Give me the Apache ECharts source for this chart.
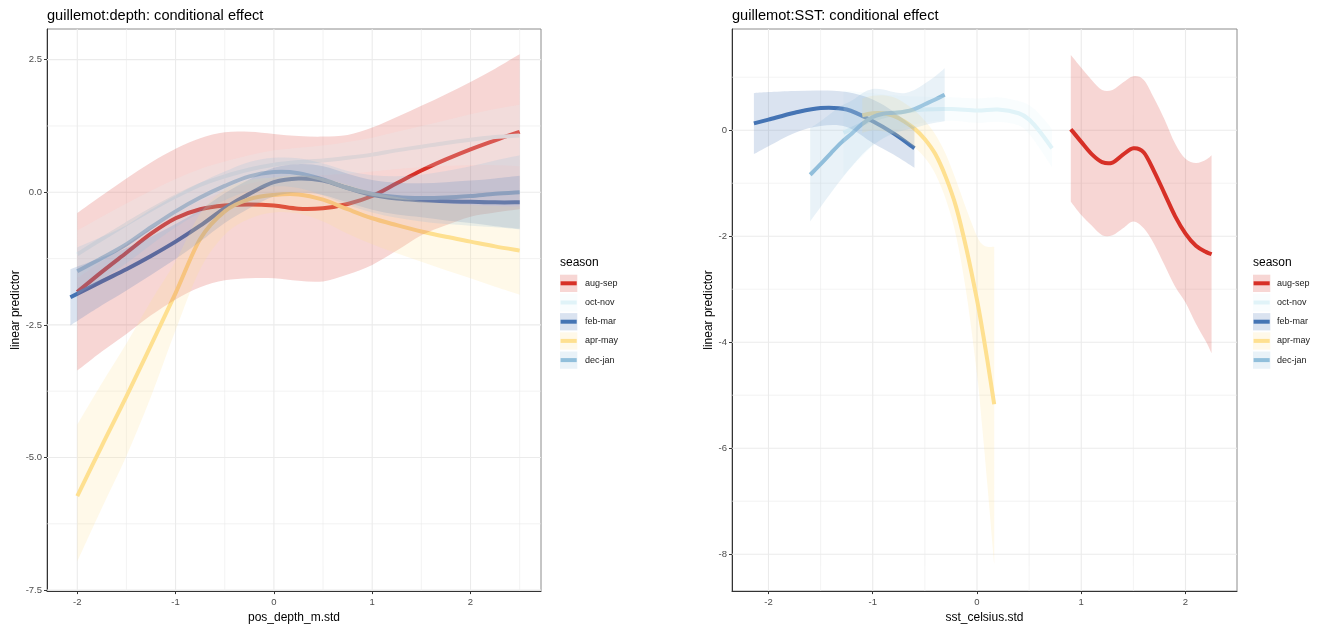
<!DOCTYPE html>
<html><head><meta charset="utf-8">
<script src="https://cdn.jsdelivr.net/npm/echarts@6/dist/echarts.min.js"></script>
<style>html,body{margin:0;padding:0;background:#fff}#c{width:1327px;height:629px}</style>
</head><body><div id="c"></div>
<script>
// ---------- legend / seasons ----------
const seasons = ['aug-sep', 'oct-nov', 'feb-mar', 'apr-may', 'dec-jan'];
const seasonColors = ['#d73027', '#e0f3f8', '#4575b4', '#fee090', '#91bfdb'];

// ---------- left panel: pos_depth_m.std ----------
const depthX = [-2, -1.75, -1.5, -1.25, -1, -0.75, -0.5, -0.25, 0, 0.25, 0.5, 0.75, 1, 1.25, 1.5, 1.75, 2, 2.25, 2.5];
const depthXFebMar = [-2.07, -1.75, -1.5, -1.25, -1, -0.75, -0.5, -0.25, 0, 0.25, 0.5, 0.75, 1, 1.25, 1.5, 1.75, 2, 2.25, 2.5];

const depthAugSepMean = [-1.88, -1.5, -1.14, -0.78, -0.49, -0.32, -0.25, -0.23, -0.25, -0.31, -0.30, -0.22, -0.07, 0.17, 0.41, 0.62, 0.81, 0.98, 1.14];
const depthAugSepHi   = [-0.39, -0.06, 0.26, 0.56, 0.82, 1.02, 1.13, 1.14, 1.10, 1.06, 1.05, 1.08, 1.22, 1.42, 1.63, 1.85, 2.08, 2.33, 2.6];
const depthAugSepLo   = [-3.36, -3.0, -2.67, -2.32, -2.02, -1.79, -1.66, -1.62, -1.62, -1.67, -1.68, -1.55, -1.37, -1.1, -0.81, -0.62, -0.46, -0.38, -0.32];

const depthOctNovMean = [-1.17, -0.88, -0.6, -0.33, -0.08, 0.14, 0.3, 0.43, 0.52, 0.57, 0.6, 0.65, 0.71, 0.79, 0.86, 0.93, 0.99, 1.04, 1.07];
const depthOctNovHi   = [-0.72, -0.46, -0.21, 0.03, 0.25, 0.44, 0.58, 0.70, 0.79, 0.84, 0.88, 0.95, 1.03, 1.14, 1.25, 1.36, 1.47, 1.57, 1.65];
const depthOctNovLo   = [-1.62, -1.30, -0.99, -0.69, -0.41, -0.16, 0.02, 0.16, 0.25, 0.30, 0.32, 0.35, 0.39, 0.44, 0.47, 0.50, 0.51, 0.51, 0.49];

const depthFebMarMean = [-1.98, -1.68, -1.45, -1.2, -0.93, -0.63, -0.3, -0.03, 0.19, 0.26, 0.22, 0.08, -0.05, -0.12, -0.15, -0.17, -0.18, -0.19, -0.19];
const depthFebMarHi   = [-1.45, -1.23, -1.05, -0.84, -0.6, -0.33, -0.02, 0.24, 0.46, 0.53, 0.49, 0.35, 0.23, 0.18, 0.17, 0.19, 0.22, 0.26, 0.31];
const depthFebMarLo   = [-2.51, -2.13, -1.85, -1.56, -1.26, -0.93, -0.58, -0.30, -0.08, -0.01, -0.05, -0.19, -0.33, -0.42, -0.47, -0.53, -0.58, -0.64, -0.69];

const depthAprMayMean = [-5.73, -4.78, -3.85, -2.88, -1.9, -0.88, -0.36, -0.13, -0.05, -0.04, -0.14, -0.32, -0.49, -0.62, -0.74, -0.84, -0.93, -1.02, -1.1];
const depthAprMayHi   = [-4.38, -3.6, -2.85, -2.05, -1.3, -0.4, 0.05, 0.23, 0.28, 0.32, 0.27, 0.14, 0.0, -0.09, -0.17, -0.21, -0.24, -0.26, -0.27];
const depthAprMayLo   = [-6.96, -5.95, -4.97, -3.85, -2.6, -1.45, -0.8, -0.5, -0.38, -0.4, -0.55, -0.78, -0.98, -1.15, -1.31, -1.47, -1.62, -1.78, -1.93];

const depthDecJanMean = [-1.49, -1.24, -0.98, -0.66, -0.36, -0.1, 0.12, 0.3, 0.38, 0.36, 0.24, 0.08, -0.03, -0.09, -0.11, -0.1, -0.07, -0.03, 0.0];
const depthDecJanHi   = [-1.04, -0.84, -0.62, -0.33, -0.06, 0.18, 0.39, 0.57, 0.65, 0.64, 0.54, 0.40, 0.32, 0.30, 0.33, 0.40, 0.49, 0.60, 0.70];
const depthDecJanLo   = [-1.94, -1.64, -1.34, -0.99, -0.66, -0.38, -0.15, 0.03, 0.11, 0.08, -0.06, -0.24, -0.38, -0.48, -0.55, -0.60, -0.63, -0.66, -0.70];

const depthXTicks = [-2, -1, 0, 1, 2];
const depthXMinor = [-1.5, -0.5, 0.5, 1.5, 2.5];
const depthYTicks = [2.5, 0, -2.5, -5, -7.5];
const depthYMinor = [1.25, -1.25, -3.75, -6.25];

// ---------- right panel: sst_celsius.std ----------
const sstAugSepX    = [0.9, 1.0, 1.1, 1.2, 1.3, 1.4, 1.5, 1.6, 1.7, 1.8, 1.9, 2.0, 2.1, 2.2, 2.25];
const sstAugSepMean = [0.02, -0.22, -0.45, -0.6, -0.61, -0.46, -0.34, -0.42, -0.78, -1.2, -1.62, -1.95, -2.18, -2.3, -2.34];
const sstAugSepHi   = [1.42, 1.18, 0.95, 0.76, 0.76, 0.9, 1.02, 0.95, 0.6, 0.2, -0.25, -0.54, -0.62, -0.55, -0.47];
const sstAugSepLo   = [-1.35, -1.6, -1.8, -1.98, -1.98, -1.85, -1.72, -1.85, -2.15, -2.55, -2.95, -3.25, -3.65, -4.0, -4.21];

const sstOctNovX    = [-1.28, -1.0, -0.75, -0.5, -0.25, 0.0, 0.2, 0.4, 0.5, 0.6, 0.72];
const sstOctNovMean = [-0.05, 0.2, 0.33, 0.39, 0.4, 0.37, 0.39, 0.32, 0.2, -0.02, -0.34];
const sstOctNovHi   = [0.75, 0.7, 0.65, 0.63, 0.62, 0.6, 0.62, 0.55, 0.47, 0.3, 0.02];
const sstOctNovLo   = [-0.85, -0.3, 0.01, 0.15, 0.18, 0.14, 0.16, 0.09, -0.07, -0.34, -0.7];

const sstFebMarX    = [-2.14, -2.0, -1.75, -1.5, -1.25, -1.0, -0.8, -0.6];
const sstFebMarMean = [0.13, 0.2, 0.33, 0.42, 0.39, 0.17, -0.06, -0.34];
const sstFebMarHi   = [0.70, 0.72, 0.74, 0.75, 0.72, 0.58, 0.35, 0.05];
const sstFebMarLo   = [-0.45, -0.3, -0.05, 0.08, 0.06, -0.24, -0.46, -0.71];

const sstAprMayX    = [-1.1, -1.0, -0.9, -0.8, -0.7, -0.6, -0.5, -0.4, -0.3, -0.2, -0.1, 0.0, 0.05, 0.1, 0.165];
const sstAprMayMean = [0.28, 0.32, 0.32, 0.27, 0.17, 0.03, -0.17, -0.45, -0.88, -1.45, -2.25, -3.2, -3.75, -4.35, -5.17];
const sstAprMayHi   = [0.6, 0.65, 0.66, 0.62, 0.52, 0.38, 0.18, -0.08, -0.45, -0.95, -1.5, -2.0, -2.15, -2.2, -2.2];
const sstAprMayLo   = [-0.05, 0.0, -0.02, -0.08, -0.18, -0.32, -0.52, -0.82, -1.3, -2.0, -3.1, -4.6, -5.6, -6.7, -8.19];

const sstDecJanX    = [-1.6, -1.5, -1.4, -1.3, -1.2, -1.1, -1.0, -0.9, -0.8, -0.7, -0.6, -0.5, -0.4, -0.31];
const sstDecJanMean = [-0.84, -0.64, -0.43, -0.23, -0.06, 0.12, 0.25, 0.31, 0.33, 0.35, 0.4, 0.49, 0.58, 0.67];
const sstDecJanHi   = [0.04, 0.17, 0.32, 0.46, 0.56, 0.7, 0.78, 0.77, 0.72, 0.7, 0.76, 0.88, 1.02, 1.17];
const sstDecJanLo   = [-1.72, -1.45, -1.18, -0.92, -0.68, -0.46, -0.28, -0.15, -0.06, 0.0, 0.04, 0.1, 0.14, 0.17];

const sstXTicks = [-2, -1, 0, 1, 2];
const sstXMinor = [-1.5, -0.5, 0.5, 1.5];
const sstYTicks = [0, -2, -4, -6, -8];
const sstYMinor = [1, -1, -3, -5, -7];

// ---------- assembly ----------
const FONT = '"Liberation Sans", Arial, sans-serif';
function rgba(hex, a) {
  const n = parseInt(hex.slice(1), 16);
  return 'rgba(' + (n >> 16) + ',' + ((n >> 8) & 255) + ',' + (n & 255) + ',' + a + ')';
}

const leftSeries = [
  { x: depthX, mean: depthAugSepMean, hi: depthAugSepHi, lo: depthAugSepLo },
  { x: depthX, mean: depthOctNovMean, hi: depthOctNovHi, lo: depthOctNovLo },
  { x: depthXFebMar, mean: depthFebMarMean, hi: depthFebMarHi, lo: depthFebMarLo },
  { x: depthX, mean: depthAprMayMean, hi: depthAprMayHi, lo: depthAprMayLo },
  { x: depthX, mean: depthDecJanMean, hi: depthDecJanHi, lo: depthDecJanLo }
];
const rightSeries = [
  { x: sstAugSepX, mean: sstAugSepMean, hi: sstAugSepHi, lo: sstAugSepLo },
  { x: sstOctNovX, mean: sstOctNovMean, hi: sstOctNovHi, lo: sstOctNovLo },
  { x: sstFebMarX, mean: sstFebMarMean, hi: sstFebMarHi, lo: sstFebMarLo },
  { x: sstAprMayX, mean: sstAprMayMean, hi: sstAprMayHi, lo: sstAprMayLo },
  { x: sstDecJanX, mean: sstDecJanMean, hi: sstDecJanHi, lo: sstDecJanLo }
];

const panels = [
  { title: 'guillemot:depth: conditional effect', xName: 'pos_depth_m.std',
    grid: { left: 47, top: 29, width: 494, height: 568 },
    xMin: -2.308, xMax: 2.717, yMin: -7.519, yMax: 3.078,
    xTicks: depthXTicks, xMinor: depthXMinor, yTicks: depthYTicks, yMinor: depthYMinor,
    yDec: 1, yNameGap: 25, series: leftSeries, legendX: 560, labelX: 585 },
  { title: 'guillemot:SST: conditional effect', xName: 'sst_celsius.std',
    grid: { left: 732, top: 29, width: 505, height: 568 },
    xMin: -2.350, xMax: 2.494, yMin: -8.696, yMax: 1.910,
    xTicks: sstXTicks, xMinor: sstXMinor, yTicks: sstYTicks, yMinor: sstYMinor,
    yDec: 0, yNameGap: 17, series: rightSeries, legendX: 1253, labelX: 1277 }
];

function smoothPath(pts, start) {
  let d = (start ? 'M' : 'L') + pts[0][0] + ' ' + pts[0][1];
  for (let i = 0; i < pts.length - 1; i++) {
    const p0 = pts[i - 1] || pts[i], p1 = pts[i], p2 = pts[i + 1], p3 = pts[i + 2] || p2;
    const c1x = p1[0] + (p2[0] - p0[0]) / 6, c1y = p1[1] + (p2[1] - p0[1]) / 6;
    const c2x = p2[0] - (p3[0] - p1[0]) / 6, c2y = p2[1] - (p3[1] - p1[1]) / 6;
    d += ' C' + c1x + ' ' + c1y + ' ' + c2x + ' ' + c2y + ' ' + p2[0] + ' ' + p2[1];
  }
  return d;
}

const grids = [], xAxes = [], yAxes = [], series = [], titles = [], graphics = [];

panels.forEach((p, gi) => {
  grids.push(Object.assign({ show: true, borderColor: '#8c8c8c', borderWidth: 1, backgroundColor: '#fff' }, p.grid));
  titles.push({ text: p.title, left: p.grid.left, top: 8, padding: 0,
    textStyle: { fontSize: 14.6, fontWeight: 'normal', color: '#000', fontFamily: FONT } });
  xAxes.push({
    gridIndex: gi, type: 'value', min: p.xMin, max: p.xMax,
    name: p.xName, nameLocation: 'middle', nameGap: 18,
    nameTextStyle: { fontSize: 12, color: '#000', fontFamily: FONT },
    splitLine: { show: false },
    axisLine: { show: true, onZero: false, lineStyle: { color: '#333', width: 1 } },
    axisTick: { show: true, customValues: p.xTicks, length: 3, lineStyle: { color: '#333' } },
    axisLabel: { customValues: p.xTicks, color: '#4d4d4d', fontSize: 9.5, margin: 6, fontFamily: FONT,
      formatter: v => String(v) }
  });
  yAxes.push({
    gridIndex: gi, type: 'value', min: p.yMin, max: p.yMax,
    name: 'linear predictor', nameLocation: 'middle', nameGap: p.yNameGap,
    nameTextStyle: { fontSize: 12, color: '#000', fontFamily: FONT },
    splitLine: { show: false },
    axisLine: { show: true, onZero: false, lineStyle: { color: '#333', width: 1 } },
    axisTick: { show: true, customValues: p.yTicks, length: 3, lineStyle: { color: '#333' } },
    axisLabel: { customValues: p.yTicks, color: '#4d4d4d', fontSize: 9.5, margin: 5, fontFamily: FONT,
      formatter: v => Number(v).toFixed(p.yDec) }
  });

  // panel grid lines (drawn through the axes' scales)
  series.push({
    type: 'custom', xAxisIndex: gi, yAxisIndex: gi, z: 1, silent: true, clip: true,
    data: [[0, 0]],
    renderItem: (params, api) => {
      const cs = params.coordSys;
      const kids = [];
      const vLine = (v, w) => { const q = api.coord([v, 0]);
        kids.push({ type: 'line', shape: { x1: q[0], y1: cs.y, x2: q[0], y2: cs.y + cs.height },
          style: { stroke: '#ebebeb', lineWidth: w } }); };
      const hLine = (v, w) => { const q = api.coord([0, v]);
        kids.push({ type: 'line', shape: { x1: cs.x, y1: q[1], x2: cs.x + cs.width, y2: q[1] },
          style: { stroke: '#ebebeb', lineWidth: w } }); };
      p.xMinor.forEach(v => vLine(v, 0.6));
      p.yMinor.forEach(v => hLine(v, 0.6));
      p.xTicks.forEach(v => vLine(v, 1.1));
      p.yTicks.forEach(v => hLine(v, 1.1));
      return { type: 'group', children: kids };
    }
  });

  // mean lines (below ribbons)
  p.series.forEach((s, si) => {
    series.push({
      type: 'custom', name: seasons[si], xAxisIndex: gi, yAxisIndex: gi, z: 2, silent: true, clip: true,
      data: [[s.x[0], s.mean[0]]],
      renderItem: (params, api) => {
        const pts = s.x.map((x, i) => api.coord([x, s.mean[i]]));
        return { type: 'path', shape: { pathData: smoothPath(pts, true) },
          style: { fill: 'none', stroke: seasonColors[si], lineWidth: 4, lineCap: 'butt', lineJoin: 'round' } };
      }
    });
  });
  // ribbons
  p.series.forEach((s, si) => {
    series.push({
      type: 'custom', xAxisIndex: gi, yAxisIndex: gi, z: 3, silent: true, clip: true,
      data: [[s.x[0], s.mean[0]]],
      renderItem: (params, api) => {
        const up = s.x.map((x, i) => api.coord([x, s.hi[i]]));
        const lo = s.x.map((x, i) => api.coord([x, s.lo[i]])).reverse();
        const d = smoothPath(up, true) + ' ' + smoothPath(lo, false) + ' Z';
        return { type: 'path', shape: { pathData: d },
          style: { fill: rgba(seasonColors[si], 0.2), stroke: null } };
      }
    });
  });

  // legend
  graphics.push({ type: 'text', x: p.legendX, y: 263,
    style: { text: 'season', fontSize: 12, fill: '#000', verticalAlign: 'middle', fontFamily: FONT } });
  seasons.forEach((name, i) => {
    const cy = 283.3 + i * 19.2;
    graphics.push({ type: 'rect', shape: { x: p.legendX, y: cy - 8.6, width: 17.3, height: 17.3 },
      style: { fill: rgba(seasonColors[i], 0.2) } });
    graphics.push({ type: 'line', shape: { x1: p.legendX + 0.6, y1: cy, x2: p.legendX + 16.7, y2: cy },
      style: { stroke: seasonColors[i], lineWidth: 4 } });
    graphics.push({ type: 'text', x: p.labelX, y: cy,
      style: { text: name, fontSize: 9, fill: '#1a1a1a', verticalAlign: 'middle', fontFamily: FONT } });
  });
});

const chart = echarts.init(document.getElementById('c'), null, { renderer: 'canvas' });
chart.setOption({
  animation: false,
  backgroundColor: '#fff',
  title: titles,
  grid: grids,
  xAxis: xAxes,
  yAxis: yAxes,
  series: series,
  graphic: graphics
});
</script>
</body></html>
